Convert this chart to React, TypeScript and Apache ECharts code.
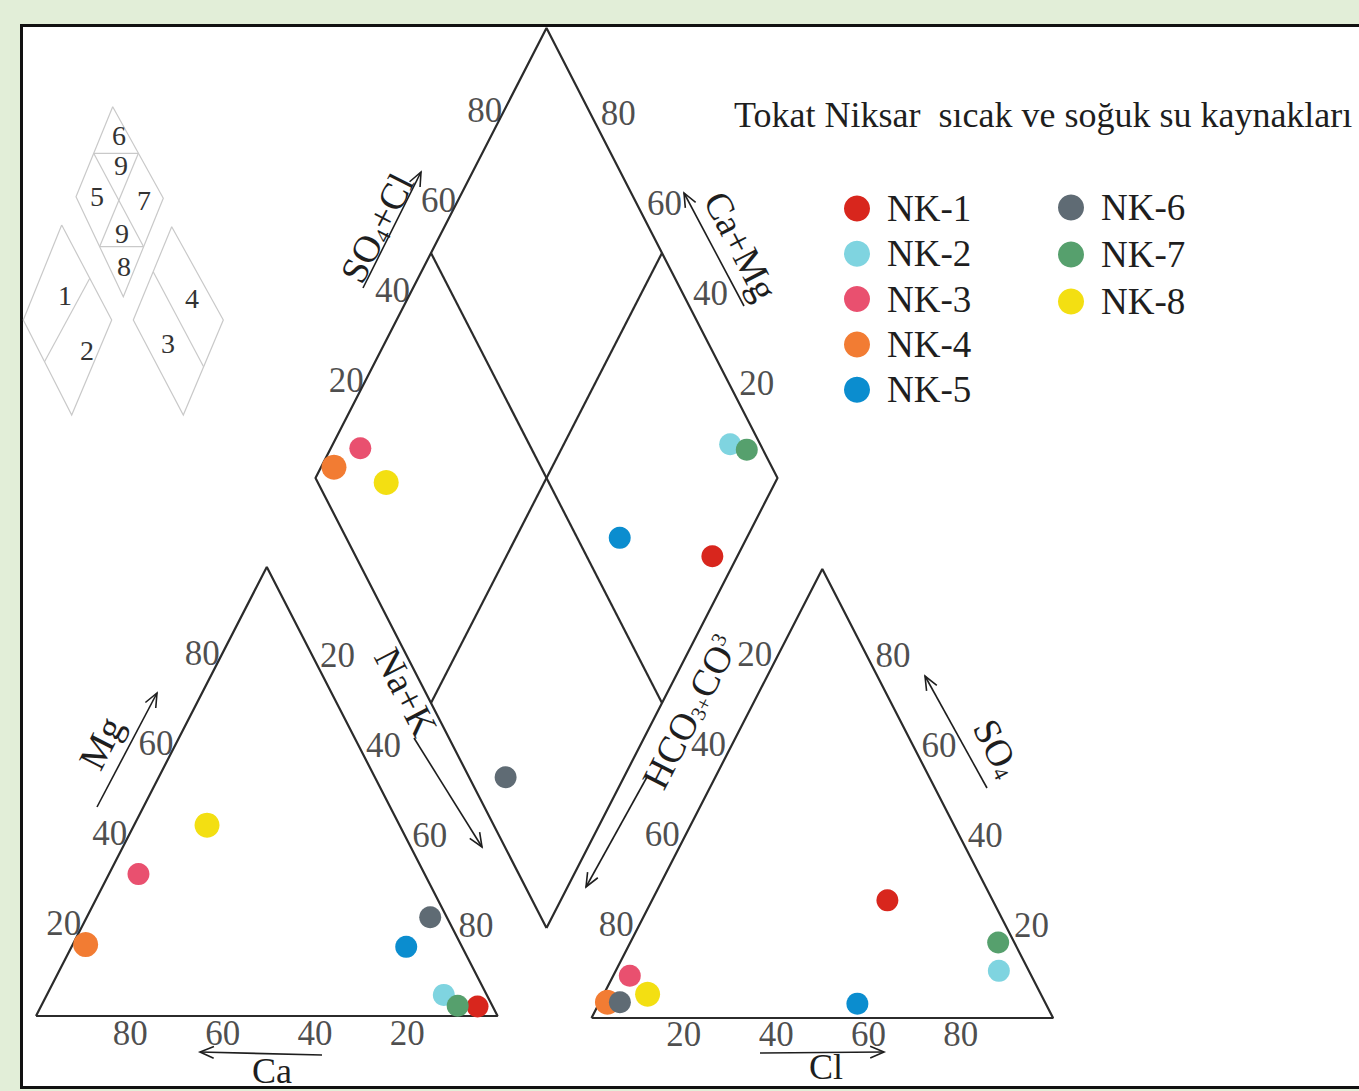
import React, { useEffect, useRef } from "react";
import * as echarts from "echarts";

// ---------- data (percent of meq/l) ----------
const samples = ["NK-1", "NK-2", "NK-3", "NK-4", "NK-5", "NK-6", "NK-7", "NK-8"];
const sampleColors = ["#d8261d", "#7fd4e0", "#e9506f", "#f27c33", "#0b8dcf", "#5f6b74", "#56a06d", "#f3df12"];
// cations
const caPct = [3.3, 9.3, 62.0, 81.3, 12.1, 3.6, 7.5, 41.7];
const mgPct = [2.1, 4.7, 31.6, 15.9, 15.4, 22.0, 2.3, 42.5];
const naKPct = [94.6, 86.0, 6.4, 2.8, 72.5, 74.4, 90.2, 15.8];
// anions
const clPct = [51.0, 83.0, 3.6, 1.7, 56.0, 4.4, 79.7, 9.5];
const so4Pct = [26.2, 10.5, 9.4, 3.5, 3.2, 3.5, 16.8, 5.3];
const hco3Pct = [22.8, 6.5, 87.0, 94.8, 40.8, 92.1, 3.5, 85.2];

const tickValues = [20, 40, 60, 80];
const titleText = "Tokat Niksar  sıcak ve soğuk su kaynakları";

const FONT = "'Liberation Serif', 'Times New Roman', serif";
const INK = "#1e1e1e";

// ---------- projections ----------
function cationXY(i: number) {
  const t = caPct[i] + mgPct[i] + naKPct[i];
  const mg = (mgPct[i] / t) * 100;
  const na = (naKPct[i] / t) * 100;
  return [na + mg / 2, mg];
}
function anionXY(i: number) {
  const t = clPct[i] + so4Pct[i] + hco3Pct[i];
  const so4 = (so4Pct[i] / t) * 100;
  const cl = (clPct[i] / t) * 100;
  return [cl + so4 / 2, so4];
}
function diamondXY(i: number) {
  const tc = caPct[i] + mgPct[i] + naKPct[i];
  const ta = clPct[i] + so4Pct[i] + hco3Pct[i];
  const c = ((caPct[i] + mgPct[i]) / tc) * 100;
  const s = ((so4Pct[i] + clPct[i]) / ta) * 100;
  return [50 - c / 2 + s / 2, (c + s) / 2];
}

function arrow(x1: number, y1: number, x2: number, y2: number) {
  const dx = x2 - x1, dy = y2 - y1;
  const L = Math.hypot(dx, dy);
  const bx = -dx / L, by = -dy / L;
  const h = 15, a = 0.4;
  const r = (ang: number) => [x2 + h * (bx * Math.cos(ang) - by * Math.sin(ang)), y2 + h * (bx * Math.sin(ang) + by * Math.cos(ang))];
  return [
    { type: "line", shape: { x1, y1, x2, y2 }, style: { stroke: INK, lineWidth: 1.6 }, z: 20 },
    { type: "polyline", shape: { points: [r(a), [x2, y2], r(-a)] }, style: { stroke: INK, lineWidth: 1.6 }, z: 20 },
  ];
}

const ROT = Math.atan2(450, 231);

function richTitle(x: number, y: number, rotation: number, text: string, size = 38) {
  return {
    type: "text",
    x,
    y,
    rotation,
    z: 20,
    style: {
      text,
      align: "center",
      verticalAlign: "middle",
      fill: INK,
      fontSize: size,
      fontFamily: FONT,
      rich: {
        a: { fontSize: size, fontFamily: FONT, fill: INK },
        b: { fontSize: Math.round(size * 0.55), fontFamily: FONT, fill: INK, padding: [Math.round(size * 0.45), 0, 0, 0] },
        c: { fontSize: Math.round(size * 0.55), fontFamily: FONT, fill: INK, padding: [0, 0, Math.round(size * 0.4), 0] },
      },
    },
  };
}

function lineSeg(points: number[][]) {
  return {
    type: "polyline",
    shape: { points },
    style: { stroke: "#c9c9c9", lineWidth: 1.2 },
    z: 5,
  };
}
function smallDigit(x: number, y: number, t: string) {
  return { type: "text", x, y, z: 6, style: { text: t, align: "center", verticalAlign: "middle", fill: "#333", fontSize: 28, lineHeight: 26, fontFamily: FONT } };
}

function tickSeries(gridIndex: number, pts: number[][], offset: number[], align: string) {
  return {
    type: "scatter",
    xAxisIndex: gridIndex,
    yAxisIndex: gridIndex,
    symbolSize: 0.01,
    silent: true,
    itemStyle: { color: "transparent" },
    data: pts,
    z: 6,
    label: {
      show: true,
      position: "inside",
      offset,
      align,
      verticalAlign: "middle",
      formatter: (p: any) => String(p.value[2]),
      fontSize: 35,
      fontFamily: FONT,
      color: INK,
    },
  };
}

function outline(gridIndex: number, pts: number[][]) {
  return {
    type: "line",
    xAxisIndex: gridIndex,
    yAxisIndex: gridIndex,
    data: pts,
    showSymbol: false,
    symbol: "none",
    silent: true,
    lineStyle: { color: "#2b2b2b", width: 2.2 },
    z: 3,
  };
}

export default function App() {
  const ref = useRef<HTMLDivElement>(null);
  useEffect(() => {
    if (!ref.current) return;
    const chart = echarts.init(ref.current, undefined, { renderer: "svg" });

    const grids = [
      { left: 36, top: 567, width: 461.6, height: 449 },
      { left: 591.5, top: 569, width: 461.6, height: 449 },
      { left: 315.5, top: 28, width: 462, height: 900 },
    ];
    const axis = (gi: number) => ({ type: "value", gridIndex: gi, min: 0, max: 100, show: false });

    const series: any[] = [];
    series.push(outline(0, [[0, 0], [100, 0], [50, 100], [0, 0]]));
    series.push(outline(1, [[0, 0], [100, 0], [50, 100], [0, 0]]));
    series.push(outline(2, [[50, 0], [0, 50], [50, 100], [100, 50], [50, 0]]));
    series.push(outline(2, [[25, 25], [75, 75]]));
    series.push(outline(2, [[75, 25], [25, 75]]));

    series.push(tickSeries(0, tickValues.map((v) => [v / 2, v, v]), [-1, -3], "right"));
    series.push(tickSeries(0, tickValues.map((v) => [50 + v / 2, 100 - v, v]), [7, -1], "left"));
    series.push(tickSeries(0, tickValues.map((v) => [100 - v, 0, v]), [2, 17], "center"));
    series.push(tickSeries(1, tickValues.map((v) => [(100 - v) / 2, 100 - v, v]), [-4, -4], "right"));
    series.push(tickSeries(1, tickValues.map((v) => [100 - v / 2, v, v]), [7, -3], "left"));
    series.push(tickSeries(1, tickValues.map((v) => [v, 0, v]), [0, 16], "center"));
    series.push(tickSeries(2, tickValues.map((v) => [v / 2, 50 + v / 2, v]), [2, -8], "right"));
    series.push(tickSeries(2, tickValues.map((v) => [100 - v / 2, 50 + v / 2, v]), [8, -5], "left"));

    samples.forEach((name, i) => {
      const size = name === "NK-4" || name === "NK-8" ? 25 : 22;
      const base = {
        type: "scatter",
        name,
        symbol: "circle",
        symbolSize: size,
        itemStyle: { color: sampleColors[i], opacity: 1 },
        z: 10,
      };
      series.push({ ...base, xAxisIndex: 0, yAxisIndex: 0, data: [cationXY(i)] });
      series.push({ ...base, xAxisIndex: 1, yAxisIndex: 1, data: [anionXY(i)] });
      series.push({ ...base, xAxisIndex: 2, yAxisIndex: 2, data: [diamondXY(i)] });
    });

    const legendCommon = {
      orient: "vertical",
      icon: "circle",
      itemWidth: 50,
      itemHeight: 26,
      itemGap: 8.3,
      padding: 0,
      selectedMode: false,
      textStyle: { fontSize: 37, fontFamily: FONT, color: INK, lineHeight: 36 },
    };

    const graphic: any[] = [
      {
        type: "rect",
        z: -10,
        shape: { x: 21.5, y: 25.5, width: 1400, height: 1062 },
        style: { fill: "#ffffff", stroke: "#111111", lineWidth: 3 },
      },
      {
        type: "text",
        x: 734,
        y: 115,
        z: 20,
        style: { text: titleText, align: "left", verticalAlign: "middle", fill: INK, fontSize: 36, fontFamily: FONT },
      },
      // index diagram
      lineSeg([[112.7, 106.7], [76, 196.7], [123.3, 296.7], [163.3, 198.3], [112.7, 106.7]]),
      lineSeg([[93.7, 153.3], [138.4, 153.3]]),
      lineSeg([[99.6, 246.7], [143.6, 246.7]]),
      lineSeg([[93.7, 153.3], [143.6, 246.7]]),
      lineSeg([[138.4, 153.3], [99.6, 246.7]]),
      lineSeg([[61.7, 225], [111.7, 320], [71.7, 415], [23.3, 320], [61.7, 225]]),
      lineSeg([[89.8, 278.3], [44.5, 361.7]]),
      lineSeg([[171.7, 226.7], [223.3, 320], [183.3, 415], [133.3, 320], [171.7, 226.7]]),
      lineSeg([[153.2, 271.7], [203.6, 366.7]]),
      smallDigit(119, 135, "6"),
      smallDigit(121, 165, "9"),
      smallDigit(97, 196, "5"),
      smallDigit(144, 200, "7"),
      smallDigit(122, 233, "9"),
      smallDigit(124, 266, "8"),
      smallDigit(65, 295, "1"),
      smallDigit(87, 350, "2"),
      smallDigit(192, 298, "4"),
      smallDigit(168, 343, "3"),
      // axis titles
      richTitle(377, 228, ROT, "{a|SO}{b|4}{a|+Cl}"),
      richTitle(741, 246, -ROT, "{a|Ca+Mg}"),
      richTitle(101, 743, ROT, "{a|Mg}"),
      richTitle(406, 692, -ROT, "{a|Na+K}"),
      richTitle(690, 712, ROT, "{a|HCO}{b|3+}{a|CO}{c|3}"),
      richTitle(997, 748, -ROT, "{a|SO}{b|4}"),
      richTitle(272, 1071, 0, "{a|Ca}", 36),
      richTitle(826, 1067, 0, "{a|Cl}", 36),
      ...arrow(363, 288, 421, 172),
      ...arrow(744, 306, 684, 193),
      ...arrow(97, 807, 157, 693),
      ...arrow(414, 738, 482, 847),
      ...arrow(647, 777, 586, 887),
      ...arrow(987, 788, 925, 676),
      ...arrow(322, 1055, 200, 1052),
      ...arrow(760, 1053, 884, 1052),
    ];

    chart.setOption({
      animation: false,
      backgroundColor: "transparent",
      grid: grids,
      xAxis: [axis(0), axis(1), axis(2)],
      yAxis: [axis(0), axis(1), axis(2)],
      legend: [
        { ...legendCommon, data: samples.slice(0, 5), left: 844, top: 190 },
        { ...legendCommon, data: samples.slice(5), left: 1058, top: 189, itemGap: 10 },
      ],
      graphic,
      series,
    });
    return () => chart.dispose();
  }, []);

  return (
    <div
      style={{ position: "absolute", left: 0, top: 0, width: 1359, height: 1091, background: "#e2eed8", overflow: "hidden" }}
    >
      <div ref={ref} style={{ width: 1359, height: 1091 }} />
    </div>
  );
}
